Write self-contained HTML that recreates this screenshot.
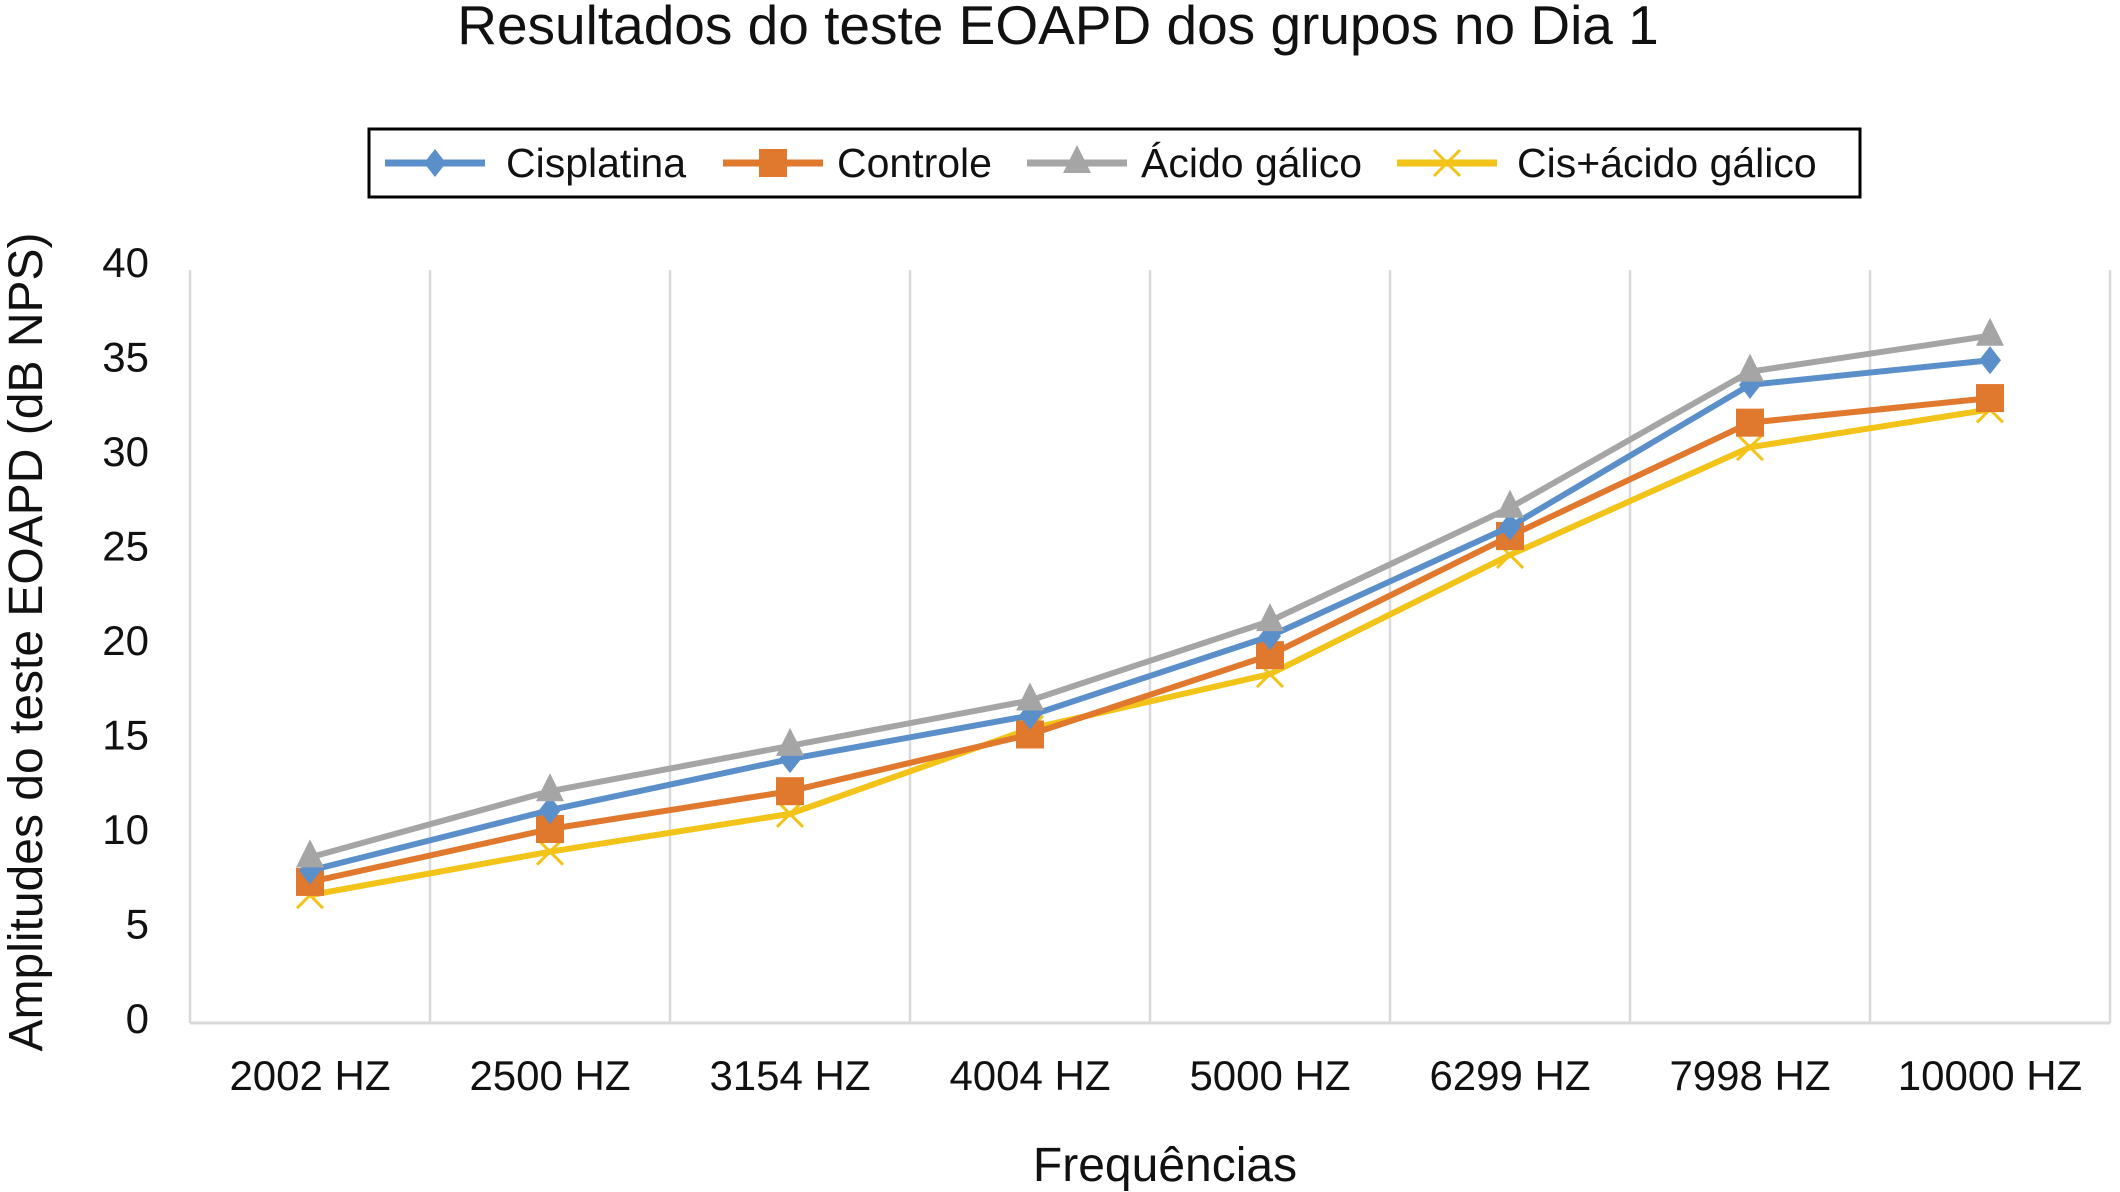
<!DOCTYPE html>
<html><head><meta charset="utf-8"><style>
body{margin:0;background:#fff;}
svg{display:block;font-family:"Liberation Sans",Arial,sans-serif;}
</style></head><body>
<svg id="chart" width="2120" height="1192" viewBox="0 0 2120 1192">
<text x="1058" y="44" font-size="55" text-anchor="middle" fill="#111">Resultados do teste EOAPD dos grupos no Dia 1</text>
<g id="legend">
<rect x="369" y="129" width="1491" height="68" fill="#fff" stroke="#000" stroke-width="3"/>
</g>
<g id="grid"></g>
<g id="yticks"></g>
<g id="xticks"></g>
<g id="series"></g>
<text transform="translate(42,642) rotate(-90)" font-size="48" text-anchor="middle" fill="#111">Amplitudes do teste EOAPD (dB NPS)</text>
<text x="1165" y="1181" font-size="48" text-anchor="middle" fill="#111">Frequências</text>
</svg>
<script>
const categories=["2002 HZ","2500 HZ","3154 HZ","4004 HZ","5000 HZ","6299 HZ","7998 HZ","10000 HZ"];
const yTicks=[0,5,10,15,20,25,30,35,40];
const seriesNames=["Cisplatina","Controle","Ácido gálico","Cis+ácido gálico"];
const cisplatina=[7.8,11,13.7,16,20.2,26,33.5,34.8];
const controle=[7.2,10,12,15,19.2,25.5,31.5,32.8];
const acidoGalico=[8.5,12,14.4,16.8,21,27,34.2,36.1];
const cisAcido=[6.5,8.8,10.8,15.3,18.2,24.5,30.2,32.2];

const NS="http://www.w3.org/2000/svg";
const L=190,R=2110,T=262,B=1018;
const bw=(R-L)/categories.length;
const xs=i=>L+bw*(i+0.5);
const ys=v=>B-(v/40)*(B-T);
function mk(tag,attrs,parent){const e=document.createElementNS(NS,tag);for(const k in attrs)e.setAttribute(k,attrs[k]);parent.appendChild(e);return e;}
const grid=document.getElementById('grid');
for(let i=0;i<=categories.length;i++){
  const x=L+bw*i;
  const l=mk('line',{x1:x,x2:x,y1:270,y2:1023,stroke:'#d9d9d9','stroke-width':2.5},grid);
  
  
}
const ax=mk('line',{x1:L,x2:R,y1:1023,y2:1023,stroke:'#d9d9d9','stroke-width':3},grid);


const yt=document.getElementById('yticks');
yTicks.forEach(v=>{
  const t=mk('text',{x:149,y:ys(v)+15,'font-size':42,'text-anchor':'end',fill:'#111'},yt);
  t.textContent=v;
  
  
});
const xt=document.getElementById('xticks');
categories.forEach((c,i)=>{
  const t=mk('text',{x:xs(i),y:1090,'font-size':42,'text-anchor':'middle',fill:'#111'},xt);
  t.textContent=c;
  
  
});
const colors=["#5b8fc9","#e0782e","#a5a5a5","#f2c318"];
const data=[cisplatina,controle,acidoGalico,cisAcido];
function marker(kind,x,y,col,parent){
  let e;
  if(kind===0){e=mk('path',{d:`M${x} ${y-14}L${x+11} ${y}L${x} ${y+14}L${x-11} ${y}Z`,fill:col},parent);}
  else if(kind===1){e=mk('rect',{x:x-14,y:y-14,width:28,height:28,fill:col},parent);}
  else if(kind===2){e=mk('path',{d:`M${x} ${y-18}L${x+14} ${y+10}L${x-14} ${y+10}Z`,fill:col},parent);}
  else {e=mk('path',{d:`M${x-13} ${y-13}L${x+13} ${y+13}M${x+13} ${y-13}L${x-13} ${y+13}`,stroke:col,'stroke-width':3,fill:'none'},parent);}
  return e;
}
const sg=document.getElementById('series');
[3,1,0,2].forEach(s=>{
  const g=mk('g',{},sg);
  
  
  const pts=data[s].map((v,i)=>xs(i)+','+ys(v)).join(' ');
  const pl=mk('polyline',{points:pts,fill:'none',stroke:colors[s],'stroke-width':6,'stroke-linejoin':'round'},g);
  
  
  data[s].forEach((v,i)=>{
    const m=marker(s,xs(i),ys(v),colors[s],g);
    
    
  });
});
const lg=document.getElementById('legend');
const lx=[385,723,1027,1397];
const tx=[506,837,1141,1517];
seriesNames.forEach((n,s)=>{
  const g=mk('g',{},lg);
  
  
  mk('line',{x1:lx[s],x2:lx[s]+100,y1:163,y2:163,stroke:colors[s],'stroke-width':7},g);
  marker(s,lx[s]+50,163,colors[s],g);
  const t=mk('text',{x:tx[s],y:177,'font-size':41,fill:'#111'},g);
  t.textContent=n;
});
</script>
</body></html>
